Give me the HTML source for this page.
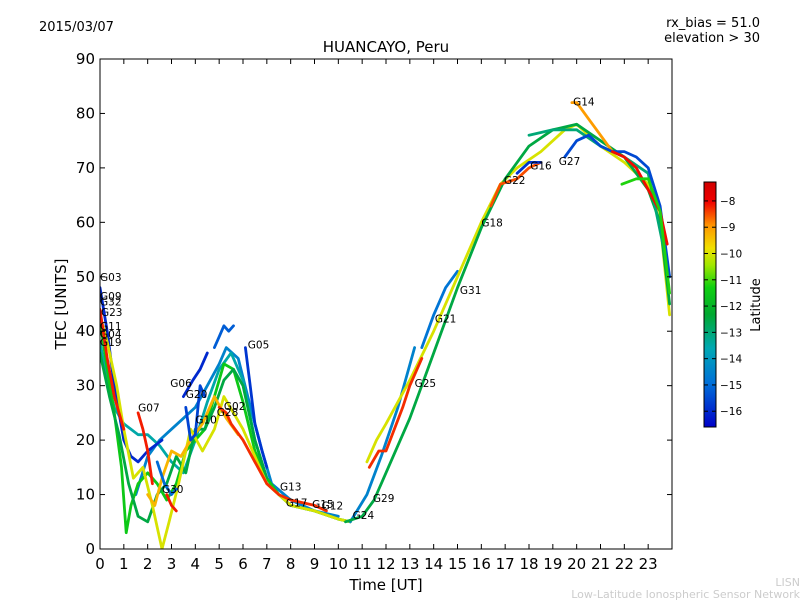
<!DOCTYPE html>
<html><head><meta charset="utf-8"><style>
html,body{margin:0;padding:0;background:#fff;}
svg{display:block;font-family:"DejaVu Sans","Liberation Sans",sans-serif;}
</style></head><body>
<svg id="chart" width="800" height="600" viewBox="0 0 800 600">
<defs>
<linearGradient id="cmap" x1="0" y1="1" x2="0" y2="0">
<stop offset="0" stop-color="#0000c8"/>
<stop offset="0.18" stop-color="#0070d8"/>
<stop offset="0.32" stop-color="#00a8b4"/>
<stop offset="0.46" stop-color="#00a830"/>
<stop offset="0.57" stop-color="#10d010"/>
<stop offset="0.66" stop-color="#a0e800"/>
<stop offset="0.73" stop-color="#f0e000"/>
<stop offset="0.82" stop-color="#ff9800"/>
<stop offset="0.92" stop-color="#f00000"/>
<stop offset="1" stop-color="#d00000"/>
</linearGradient>
<clipPath id="plotclip"><rect x="100" y="59" width="572" height="490"/></clipPath>
</defs>
<text x="39" y="31" font-size="13">2015/03/07</text>
<text x="760" y="27" font-size="13" text-anchor="end">rx_bias = 51.0</text>
<text x="760" y="42" font-size="13" text-anchor="end">elevation &gt; 30</text>
<text x="386" y="52" font-size="15" text-anchor="middle">HUANCAYO, Peru</text>
<text x="386" y="590" font-size="15" text-anchor="middle">Time [UT]</text>
<text x="66" y="304" font-size="15" text-anchor="middle" transform="rotate(-90 66 304)">TEC [UNITS]</text>
<g id="series" clip-path="url(#plotclip)"></g>
<rect x="100" y="59" width="572" height="490" fill="none" stroke="#000" stroke-width="1"/>
<g id="axes"></g>
<g id="labels"></g>
<rect x="704" y="182" width="12" height="245" fill="url(#cmap)" stroke="#000" stroke-width="1"/>
<g id="cbar"></g>
<text x="760" y="305" font-size="13" text-anchor="middle" transform="rotate(-90 760 305)">Latitude</text>
<text x="800" y="586" font-size="11" fill="#ccc" text-anchor="end">LISN</text>
<text x="800" y="598" font-size="11" fill="#ccc" text-anchor="end">Low-Latitude Ionospheric Sensor Network</text>
</svg>
<script>
const xTicks=[0,1,2,3,4,5,6,7,8,9,10,11,12,13,14,15,16,17,18,19,20,21,22,23];
const yTicks=[0,10,20,30,40,50,60,70,80,90];
const cbTicks=[-8,-9,-10,-11,-12,-13,-14,-15,-16];
// morning tracks
const m1T=[0,0.3,0.6,1,1.3,1.6,2,2.5,3,3.5,4,4.5,5,5.5,6,6.5,7,7.5,8,9,10,10.5];
const m1V=[38,31,26,23,22,21,21,19,16,14,20,27,33,36,31,20,13,10,8,7,5.5,5];
const m2T=[0,0.3,0.6,1,1.3,1.6,2,2.3,2.6];
const m2V=[48,40,30,20,17,16,18,19,20];
const m3T=[0,0.3,0.6,0.9,1.1,1.3,1.6,2,2.4,2.8,3.2,3.6,4,4.4,4.8,5.2,5.6,6,6.5,7,7.5,8,9,10,10.5];
const m3V=[42,33,25,15,3,8,12,14,12,9,12,18,20,22,28,34,33,27,18,13,10,8,7,5.5,5];
const m4T=[0,0.4,0.8,1.2,1.6,2,2.4,2.8,3.2,3.6,4,4.4,4.8,5.2,5.6,6,6.5,7];
const m4V=[36,28,21,12,6,5,10,12,17,14,22,22,26,31,33,30,20,13];
const m5T=[0,0.3,0.7,1,1.4,1.8,2.2,2.6,2.9,3.3,3.8,4.3,4.8,5.2,5.6,6,6.5,7,8,9,10,10.5];
const m5V=[43,38,30,22,13,15,8,0,5,12,22,18,22,28,25,22,17,12,8,7,5.5,5];
const m6T=[0,0.3,0.6,1];
const m6V=[44,35,28,22];
const m7T=[1.6,1.8,2,2.2];
const m7V=[25,22,18,12];
const m8T=[2.8,3,3.2];
const m8V=[10,8,7];
const m9T=[5,5.3,5.5,6,6.5,7,7.5,8,9,9.5];
const m9V=[26,25,23,20,16,12,10,9,8,7];
const m10T=[1.5,2,2.5,3,3.5,4,4.5,5,5.3,5.8,6.2,6.8,7.2,8,9,10];
const m10V=[10,17,20,22,24,26,30,34,37,35,28,18,12,9,7,6];
const m11T=[3.5,3.9,4.2,4.5];
const m11V=[28,31,33,36];
const m12T=[3.6,3.8,4,4.2,4.4];
const m12V=[26,20,21,30,28];
const m13T=[6.1,6.3,6.5,6.8,7];
const m13V=[37,30,23,18,15];
const m14T=[4.8,5,5.2,5.4,5.6];
const m14V=[37,39,41,40,41];
const m15T=[2,2.3,2.6,3,3.4,3.8,4.3,4.8,5.3,5.8];
const m15V=[10,8,13,18,17,20,23,28,24,21];
const m16T=[2.4,2.7,3,3.2];
const m16V=[16,12,10,11];
// afternoon tracks
const aAT=[10.3,11,11.5,12,13,14,15,16,17,18,19,20,21,22,23,23.5,23.9];
const aAV=[5,6,9,14,24,36,48,59,68,74,77,78,75,72,66,60,45];
const aBT=[10.5,11.2,11.8,12.5,13.2];
const aBV=[5,10,17,26,37];
const aCT=[13.5,14,14.5,15];
const aCV=[37,43,48,51];
const aDT=[11.2,11.6,12,13,14,15,16,16.8,17.5,18.5,19.5,20,21,22,23,23.5,23.9];
const aDV=[16,20,23,31,40,50,60,67,70,73,77,78,74,71,67,60,43];
const aET=[11.3,11.7,12,12.7,13,13.5];
const aEV=[15,18,18,26,30,35];
const aFT=[16.4,16.8,17.5,18,18.5];
const aFV=[63,67,68,70,71];
const aGT=[19.8,20,20.5,21,21.5];
const aGV=[82,82,79,76,73];
const aHT=[17.5,18,18.5];
const aHV=[69,71,71];
const aIT=[19.5,20,20.5,21,21.5,22,22.5,23,23.5,23.9];
const aIV=[72,75,76,74,73,73,72,70,63,50];
const aJT=[21.5,22,22.5,23,23.5,23.8];
const aJV=[73,72,70,66,62,56];
const aKT=[21.9,22.5,23,23.5,23.9];
const aKV=[67,68,68,62,47];
const aLT=[18,19,20,21,22,23,23.9];
const aLV=[76,77,77,74,72,69,50];
const tracks=[
 [m10T,m10V,-14.5],[m1T,m1V,-13.5],[m2T,m2V,-16],[m3T,m3V,-11.5],[m4T,m4V,-12.5],[m5T,m5V,-10],
 [m6T,m6V,-8.2],[m7T,m7V,-8.2],[m8T,m8V,-8.2],[m15T,m15V,-9.3],[m9T,m9V,-8.3],[m11T,m11V,-16],[m12T,m12V,-15.6],
 [m13T,m13V,-15.8],[m14T,m14V,-15.2],[m16T,m16V,-15],
 [aBT,aBV,-14.5],[aCT,aCV,-14.8],[aDT,aDV,-10],[aAT,aAV,-12.5],[aLT,aLV,-13],[aET,aEV,-8.3],[aFT,aFV,-8.5],
 [aGT,aGV,-9],[aHT,aHV,-15.8],[aIT,aIV,-15.5],[aJT,aJV,-8.1],[aKT,aKV,-11.2]];
const satNames=["G03","G09","G32","G23","G11","G04","G19","G07","G06","G20","G10","G28","G02","G05","G30","G13","G17","G15","G12","G24","G29","G25","G21","G31","G18","G22","G16","G27","G14"];
const satT=[0,0,0,0.04,0,0,0,1.6,2.95,3.6,4.0,4.9,5.2,6.2,2.6,7.55,7.8,8.9,9.3,10.6,11.45,13.2,14.05,15.1,16.0,16.95,18.05,19.25,19.85];
const satV=[50,46.5,45.5,43.5,41,39.5,38,26,30.5,28.5,23.8,25.2,26.3,37.6,11,11.5,8.5,8.3,8,6.2,9.4,30.5,42.3,47.6,60,67.8,70.4,71.3,82.2];
const NS="http://www.w3.org/2000/svg";
const X0=100,X1=672,Y0=549,Y1=59;
function sx(t){return X0+(t/24)*(X1-X0);}
function sy(v){return Y0-(v/90)*(Y0-Y1);}
const CB_TOP=-7.28,CB_BOT=-16.6;
function cbY(l){return 182+(CB_TOP-l)/(CB_TOP-CB_BOT)*245;}
const stops=[[0,[0,0,200]],[0.18,[0,112,216]],[0.32,[0,168,180]],[0.46,[0,168,48]],[0.57,[16,208,16]],[0.66,[160,232,0]],[0.73,[240,224,0]],[0.82,[255,152,0]],[0.92,[240,0,0]],[1,[208,0,0]]];
function color(l){let f=(l-CB_BOT)/(CB_TOP-CB_BOT);f=Math.max(0,Math.min(1,f));
 for(let i=1;i<stops.length;i++){if(f<=stops[i][0]){const a=stops[i-1],b=stops[i];const u=(f-a[0])/(b[0]-a[0]);
 const c=a[1].map((x,k)=>Math.round(x+(b[1][k]-x)*u));return `rgb(${c[0]},${c[1]},${c[2]})`;}}return "rgb(208,0,0)";}
const sg=document.getElementById('series');
tracks.forEach((tr,i)=>{const p=document.createElementNS(NS,'polyline');
 p.setAttribute('points',tr[0].map((t,j)=>sx(t).toFixed(1)+','+sy(tr[1][j]).toFixed(1)).join(' '));
 p.setAttribute('fill','none');p.setAttribute('stroke',color(tr[2]));p.setAttribute('stroke-width','2.8');
 p.setAttribute('stroke-linejoin','round');p.setAttribute('stroke-linecap','round');
 
 
 sg.appendChild(p);});
const ax=document.getElementById('axes');
xTicks.forEach(t=>{const x=sx(t);
 [[Y0,Y0-5],[Y1,Y1+5]].forEach(s=>{const l=document.createElementNS(NS,'line');l.setAttribute('x1',x);l.setAttribute('x2',x);l.setAttribute('y1',s[0]);l.setAttribute('y2',s[1]);l.setAttribute('stroke','#000');
 
 
 ax.appendChild(l);});
 const tx=document.createElementNS(NS,'text');tx.setAttribute('x',x);tx.setAttribute('y',569);tx.setAttribute('font-size','15');tx.setAttribute('text-anchor','middle');tx.textContent=t;
 
 
 ax.appendChild(tx);});
yTicks.forEach(v=>{const y=sy(v);
 [[X0,X0+5],[X1,X1-5]].forEach(s=>{const l=document.createElementNS(NS,'line');l.setAttribute('x1',s[0]);l.setAttribute('x2',s[1]);l.setAttribute('y1',y);l.setAttribute('y2',y);l.setAttribute('stroke','#000');
 
 
 ax.appendChild(l);});
 const tx=document.createElementNS(NS,'text');tx.setAttribute('x',95);tx.setAttribute('y',y+5);tx.setAttribute('font-size','15');tx.setAttribute('text-anchor','end');tx.textContent=v;
 
 
 ax.appendChild(tx);});
const lg=document.getElementById('labels');
satNames.forEach((n,i)=>{const tx=document.createElementNS(NS,'text');tx.setAttribute('x',sx(satT[i]));tx.setAttribute('y',sy(satV[i])+4);tx.setAttribute('font-size','10.5');tx.textContent=n;
 
 
 lg.appendChild(tx);});
const cb=document.getElementById('cbar');
cbTicks.forEach(l=>{const y=cbY(l);
 [[704,708],[716,712]].forEach(s=>{const ln=document.createElementNS(NS,'line');ln.setAttribute('x1',s[0]);ln.setAttribute('x2',s[1]);ln.setAttribute('y1',y);ln.setAttribute('y2',y);ln.setAttribute('stroke','#000');
 
 
 cb.appendChild(ln);});
 const tx=document.createElementNS(NS,'text');tx.setAttribute('x',720);tx.setAttribute('y',y+4);tx.setAttribute('font-size','10.5');tx.textContent='\u2212'+Math.abs(l);
 
 
 cb.appendChild(tx);});
</script>
</body></html>
